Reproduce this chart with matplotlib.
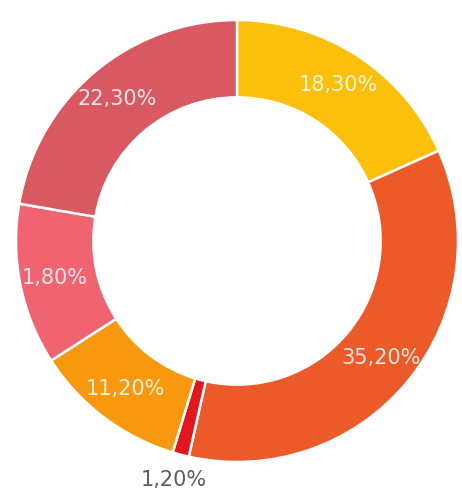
import numpy as np
import matplotlib
matplotlib.use("Agg")
from matplotlib import pyplot as plt

# slice shares (%), clockwise from 12 o'clock
values = [18.3, 35.2, 1.2, 11.2, 11.8, 22.3]
labels = ["18,30%", "35,20%", "1,20%", "11,20%", "1,80%", "22,30%"]
colors = ["#FCC00C", "#EC5A2A", "#E3161F", "#F8980E", "#EF6470", "#D85961"]
outside = [False, False, True, False, False, False]

W, H = 462, 495
fig = plt.figure(figsize=(W / 100, H / 100), dpi=100)
cx, cy, R = 237, 241, 221
ax = fig.add_axes([(cx - R) / W, (H - cy - R) / H, 2 * R / W, 2 * R / H])

wedges, _ = ax.pie(values, colors=colors, startangle=90, counterclock=False,
                   radius=1.0,
                   wedgeprops=dict(width=0.35, edgecolor="white", linewidth=1.8))
ax.set_xlim(-1, 1)
ax.set_ylim(-1, 1)
ax.set_aspect("equal")
ax.axis("off")

for w, lab, out in zip(wedges, labels, outside):
    ang = np.deg2rad((w.theta1 + w.theta2) / 2)
    r = 1.12 if out else 0.84
    col = "#555555" if out else "white"
    ax.text(r * np.cos(ang), r * np.sin(ang), lab, ha="center", va="center",
            fontsize=15, family="DejaVu Sans", color=col,
            alpha=0.95 if out else 0.85, clip_on=False)

fig.savefig("out.png", dpi=100)
